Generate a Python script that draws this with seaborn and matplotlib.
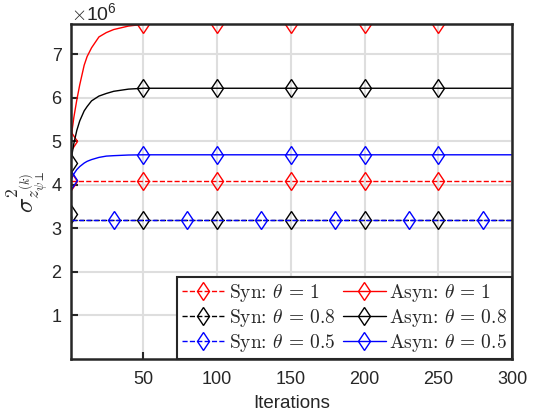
import seaborn as sns
import matplotlib.pyplot as plt
import matplotlib.ticker as mticker
import pandas as pd

# values, in units of 1e6
iters = [1, 2, 3, 5, 7, 10, 12, 15, 20, 25, 30, 40, 50, 60, 80, 100,
         130, 150, 180, 200, 230, 250, 280, 300]
syn_1 = [4.09] * 24
syn_08 = [3.34] + [3.18] * 23
syn_05 = [3.18] * 24
asyn_1 = [5.0, 5.3, 5.55, 5.95, 6.3, 6.75, 6.95, 7.15, 7.4, 7.5, 7.57, 7.65,
          7.69] + [7.7] * 11
asyn_08 = [4.5, 4.75, 4.95, 5.25, 5.47, 5.7, 5.8, 5.93, 6.04, 6.1, 6.15, 6.2,
           6.22] + [6.22] * 11
asyn_05 = [4.1, 4.18, 4.25, 4.35, 4.42, 4.5, 4.54, 4.58, 4.63, 4.66, 4.67,
           4.685, 4.69] + [4.69] * 11

marks_main = [1, 50, 100, 150, 200, 250]
marks_blue = [30, 80, 130, 180, 230, 280]

series = [
    (r'Syn: $\theta\,=\,1$', syn_1, 'red', '--', marks_main),
    (r'Syn: $\theta\,=\,0.8$', syn_08, 'black', '--', marks_main),
    (r'Syn: $\theta\,=\,0.5$', syn_05, 'blue', '--', marks_blue),
    (r'Asyn: $\theta\,=\,1$', asyn_1, 'red', '-', marks_main),
    (r'Asyn: $\theta\,=\,0.8$', asyn_08, 'black', '-', marks_main),
    (r'Asyn: $\theta\,=\,0.5$', asyn_05, 'blue', '-', marks_main),
]

sns.set_style('white')
plt.rcParams['font.family'] = ['Liberation Sans', 'DejaVu Sans']
plt.rcParams['mathtext.fontset'] = 'cm'

fig = plt.figure(figsize=(5.33, 4.19), dpi=100)
ax = fig.add_axes([0.133, 0.1437, 0.828, 0.7993])

for label, vals, color, ls, marks in series:
    df = pd.DataFrame({'it': iters, 'val': [v * 1e6 for v in vals]})
    sns.lineplot(data=df, x='it', y='val', ax=ax, color=color, linestyle=ls,
                 linewidth=1.0, marker='d', markersize=9.5,
                 markerfacecolor='none', markeredgecolor=color,
                 markeredgewidth=1.0, label=label,
                 markevery=[i in marks for i in iters])

ax.set_xlim(1, 300)
ax.set_ylim(0, 7.7e6)
ax.set_xticks([50, 100, 150, 200, 250, 300])
ax.set_yticks([1e6, 2e6, 3e6, 4e6, 5e6, 6e6, 7e6])
fmt = mticker.ScalarFormatter(useMathText=True)
fmt.set_powerlimits((0, 0))
ax.yaxis.set_major_formatter(fmt)
ax.yaxis.get_offset_text().set_fontsize(14)
ax.yaxis.get_offset_text().set_color('#262626')

ax.grid(True, color='#dedede', linewidth=1.5)
ax.set_axisbelow(True)
ax.tick_params(direction='in', length=5, width=1.5, labelsize=13,
               colors='#262626', top=False, right=False, left=True, bottom=True)
ax.tick_params(axis='x', pad=9)
ax.tick_params(axis='y', pad=6)
for s in ax.spines.values():
    s.set_linewidth(1.8)
    s.set_color('#262626')

ax.set_xlabel('Iterations', fontsize=13.5, color='#262626', labelpad=5)
ax.set_ylabel(r'$\sigma^2_{z^{(k)}_{\psi\perp}}$', fontsize=18, color='#262626',
              labelpad=0)

leg = ax.legend(loc='lower right', ncol=2, frameon=True,
                prop={'family': 'cmr10', 'size': 14},
                fancybox=False, framealpha=1, edgecolor='#262626',
                borderaxespad=0, handlelength=2.2, handletextpad=0.2,
                columnspacing=0.4, labelspacing=0.15, borderpad=0.25)
leg.get_frame().set_linewidth(1.5)

fig.savefig('out.png', dpi=100)
